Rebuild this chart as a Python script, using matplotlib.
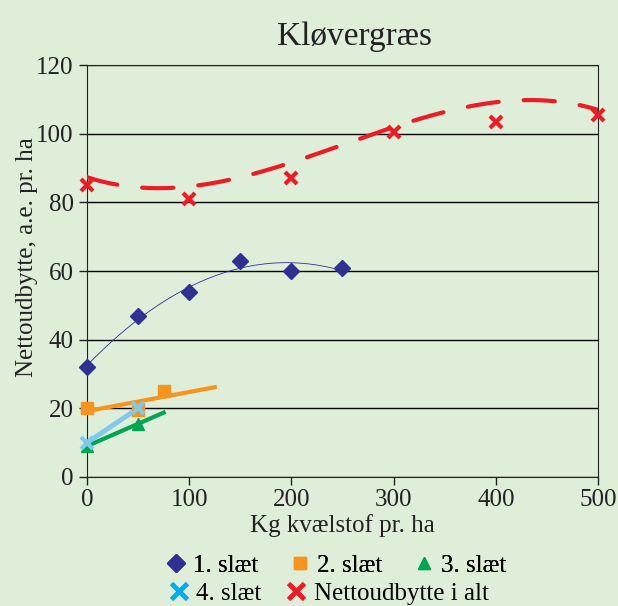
import numpy as np
import matplotlib.pyplot as plt
from matplotlib.lines import Line2D

# data
x1 = [0, 50, 100, 150, 200, 250]
y1 = [32, 47, 54, 63, 60, 61]
x2 = [0, 50, 75]
y2 = [20, 19.5, 25]
x3 = [0, 50]
y3 = [9, 15.5]
x4 = [0, 50]
y4 = [10, 20]
xt = [0, 100, 200, 300, 400, 500]
yt = [85, 81, 87, 100.5, 103.5, 105.5]
# the dashed trendline of the total
yt_trend = [87.4, 84.4, 91.8, 102, 109, 107]

bg = '#dfeed8'
c_blue = '#2e3192'
c_orange = '#f7941d'
c_green = '#00a651'
c_lblue = '#7fc8ee'
c_red = '#ed1c24'

plt.rcParams['font.family'] = ['Liberation Serif', 'DejaVu Serif']

fig = plt.figure(figsize=(6.18, 6.06), dpi=100, facecolor=bg)
ax = fig.add_axes([0.1408, 0.2129, 0.8268, 0.6798], facecolor=bg)

# trendlines
xx = np.linspace(0, 250, 200)
ax.plot(xx, np.polyval(np.polyfit(x1, y1, 2), xx), color=c_blue, lw=0.6, zorder=3)

xx = np.linspace(0, 125, 50)
ax.plot(xx, np.polyval(np.polyfit(x2, y2, 1), xx), color=c_orange, lw=3, zorder=3)

xx = np.linspace(0, 75, 50)
ax.plot(xx, np.polyval(np.polyfit(x3, y3, 1), xx), color=c_green, lw=3, zorder=3)

ax.plot(x4, y4, color=c_lblue, lw=3.5, zorder=3)

xx = np.linspace(0, 500, 300)
red_line, = ax.plot(xx, np.polyval(np.polyfit(xt, yt_trend, 3), xx), color=c_red,
                    lw=3, zorder=3)
red_line.set_dashes([7.5, 6.0])
red_line.set_dash_capstyle('round')

# markers
ax.plot(x1, y1, 'D', color=c_blue, ms=8, zorder=4, clip_on=False)
ax.plot(x2, y2, 's', color=c_orange, ms=8, zorder=4, clip_on=False)
ax.plot(x3, y3, '^', color=c_green, ms=8, zorder=4, clip_on=False)
ax.plot(x4, y4, 'x', color=c_lblue, ms=9, mew=3, zorder=4, clip_on=False)
ax.plot(xt, yt, 'x', color=c_red, ms=9, mew=3, zorder=4, clip_on=False)

ax.set_xlim(0, 500)
ax.set_ylim(0, 120)
ax.set_xticks([0, 100, 200, 300, 400, 500])
ax.set_yticks([0, 20, 40, 60, 80, 100, 120])
ax.yaxis.grid(True, color='black', lw=1)
ax.set_axisbelow(True)
ax.tick_params(direction='out', length=6, width=1, labelsize=18, colors='#222222')
ax.tick_params(axis='x', pad=3)
for s in ['left', 'bottom', 'top', 'right']:
    ax.spines[s].set_color('#222222')

ax.set_xlabel('Kg kvælstof pr. ha', fontsize=18, labelpad=2, color='#222222')
ax.set_ylabel('Nettoudbytte, a.e. pr. ha', fontsize=18, color='#222222')
ax.yaxis.set_label_coords(-0.096, 0.534)
fig.text(0.574, 0.94, 'Kløvergræs', fontsize=24, ha='center', va='center', color='#222222')

# legend, two rows laid out like the original
leg_kw = dict(loc='center', frameon=False, fontsize=18, handlelength=0.8,
              handletextpad=0.3, borderpad=0)
row1 = [
    Line2D([], [], ls='none', marker='D', color=c_blue, ms=9),
    Line2D([], [], ls='none', marker='s', color=c_orange, ms=9),
    Line2D([], [], ls='none', marker='^', color=c_green, ms=9),
]
leg1 = fig.legend(row1, ['1. slæt', '2. slæt', '3. slæt'], ncol=3,
                  bbox_to_anchor=(0.544, 0.067), columnspacing=1.25, **leg_kw)
row2 = [
    Line2D([], [], ls='none', marker='x', color='#00aeef', ms=11, mew=3.5),
    Line2D([], [], ls='none', marker='x', color=c_red, ms=11, mew=3.5),
]
fig.legend(row2, ['4. slæt', 'Nettoudbytte i alt'], ncol=2,
           bbox_to_anchor=(0.532, 0.021), columnspacing=1.0, **leg_kw)
fig.add_artist(leg1)

fig.savefig('out.png', dpi=100, facecolor=bg)
